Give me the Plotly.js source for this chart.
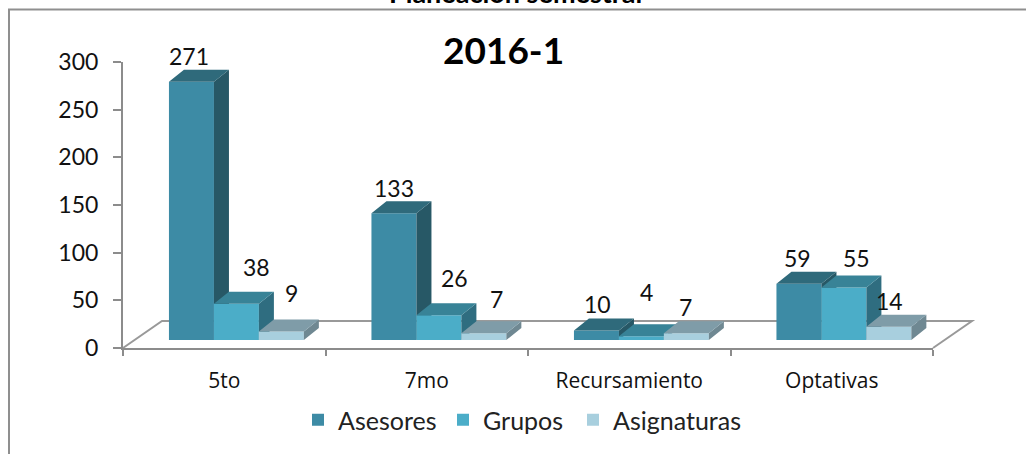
<!DOCTYPE html>
<html>
<head>
<meta charset="utf-8">
<script src="https://cdn.plot.ly/plotly-3.0.1.min.js"></script>
<style>html,body{margin:0;padding:0;background:#fff;overflow:hidden}#chart{width:1026px;height:454px}</style>
</head>
<body>
<div id="chart"></div>
<script>
// ---- data ----
const categories = ['5to', '7mo', 'Recursamiento', 'Optativas'];
const asesores = [271, 133, 10, 59];
const grupos = [38, 26, 4, 55];
const asignaturas = [9, 7, 7, 14];
const yTicks = [0, 50, 100, 150, 200, 250, 300];

// ---- hand-placed data label nudges of the original (pixels: right, up) ----
const nudgeAsesores = [[-2.5, 26], [0, 25], [1, 26.5], [-1, 26]];
const nudgeGrupos = [[20, 37], [16, 37], [5, 44], [13, 30]];
const nudgeAsignaturas = [[10, 38], [13, 34], [-1, 26], [1, 26]];

// ---- styling and geometry ----
const W = 1026, H = 454;
const px = { left: 123, right: 933, top: 62, bottom: 348 };
const xPerPx = categories.length / (px.right - px.left);
const yPerPx = 300 / (px.bottom - px.top);
const barBase = 8.4, barWidth = 45 * xPerPx;
const depthX = 15 * xPerPx, depthY = 12 * yPerPx;
const series = [
  { name: 'Asesores', values: asesores, nudge: nudgeAsesores, center: 0.338, front: '#3d8ba5', side: '#275866', top: '#2f6a7b', legend: 'legend', legendX: 298 },
  { name: 'Grupos', values: grupos, nudge: nudgeGrupos, center: 0.56, front: '#4badc8', side: '#2f6d80', top: '#388397', legend: 'legend2', legendX: 443 },
  { name: 'Asignaturas', values: asignaturas, nudge: nudgeAsignaturas, center: 0.782, front: '#a8cfde', side: '#6f8892', top: '#7f9ca8', legend: 'legend3', legendX: 573 }
];
const labelFont = 'Lato, "Open Sans", sans-serif';
const grey = '#8c8c8c';

const traces = [];
series.forEach((s, i) => {
  const xa = i === 0 ? 'x' : 'x' + (i + 1), ya = i === 0 ? 'y' : 'y' + (i + 1);
  const xs = s.values.map((_, c) => c + s.center);
  // front faces: real bars
  traces.push({
    type: 'bar', name: s.name, x: xs, y: s.values, base: barBase, width: barWidth, legend: s.legend,
    xaxis: xa, yaxis: ya, marker: { color: s.front, line: { width: 0 } }, hoverinfo: 'y'
  });
  // extruded side and top faces
  const sideX = [], sideY = [], topX = [], topY = [];
  s.values.forEach((v, c) => {
    const l = xs[c] - barWidth / 2, r = xs[c] + barWidth / 2, t = barBase + v;
    sideX.push(r, r + depthX, r + depthX, r, r, null);
    sideY.push(barBase, barBase + depthY, t + depthY, t, barBase, null);
    topX.push(l, l + depthX, r + depthX, r, l, null);
    topY.push(t, t + depthY, t + depthY, t, t, null);
  });
  [[sideX, sideY, s.side], [topX, topY, s.top]].forEach(f => {
    traces.push({
      type: 'scatter', mode: 'lines', x: f[0], y: f[1], fill: 'toself', fillcolor: f[2],
      line: { width: 0, color: f[2] }, xaxis: xa, yaxis: ya, showlegend: false, hoverinfo: 'skip', cliponaxis: false
    });
  });
});

// data labels sit on the bars' own scale and may leave the plot area (271)
const dataLabels = [];
series.forEach(s => {
  s.values.forEach((v, c) => {
    dataLabels.push({
      xref: 'x', yref: 'y', x: c + s.center, y: barBase + v, text: String(v), showarrow: false,
      xanchor: 'center', yanchor: 'middle', xshift: s.nudge[c][0], yshift: s.nudge[c][1],
      font: { family: labelFont, size: 23, color: '#111' }
    });
  });
});

const domX = [px.left / W, px.right / W];
const domY = [1 - px.bottom / H, 1 - px.top / H];
const pathPts = pts => 'M' + pts.map(p => (p[0] / W) + ',' + (1 - p[1] / H)).join('L');
const legendAt = xPx => ({
  orientation: 'h', x: xPx / W, xanchor: 'left', y: 1 - 420 / H, yanchor: 'middle', itemwidth: 30,
  font: { family: labelFont, size: 25, color: '#222' }, bgcolor: 'rgba(0,0,0,0)', itemclick: false, itemdoubleclick: false
});

const layout = {
  width: W, height: H,
  margin: { l: 0, r: 0, t: 0, b: 0 },
  paper_bgcolor: '#fff', plot_bgcolor: 'rgba(0,0,0,0)',
  barmode: 'overlay', showlegend: true,
  legend: legendAt(series[0].legendX),
  legend2: legendAt(series[1].legendX),
  legend3: legendAt(series[2].legendX),
  // category labels
  xaxis: {
    domain: domX, range: [0, 4], fixedrange: true, showgrid: false, zeroline: false, showline: false,
    tickmode: 'array', tickvals: categories.map((_, c) => c + 0.5), ticktext: categories, ticks: '',
    ticklabelstandoff: 18, tickfont: { family: '"Open Sans", sans-serif', size: 21, color: '#111' }
  },
  yaxis: {
    domain: domY, range: [0, 300], fixedrange: true, showgrid: false, zeroline: false,
    showline: true, linecolor: grey, linewidth: 2,
    tickmode: 'array', tickvals: yTicks, ticks: 'outside', ticklen: 8, tickwidth: 1.5, tickcolor: grey,
    ticklabelstandoff: 10, tickfont: { family: labelFont, size: 23, color: '#111' }
  },
  // axis line and category boundary ticks
  xaxis2: {
    domain: domX, range: [0, 4], overlaying: 'x', fixedrange: true, showgrid: false, zeroline: false, anchor: 'y2',
    showline: true, linecolor: grey, linewidth: 2, showticklabels: false,
    tickmode: 'array', tickvals: [0, 1, 2, 3, 4], ticks: 'outside', ticklen: 6, tickwidth: 1.5, tickcolor: grey
  },
  yaxis2: { domain: domY, range: [0, 300], visible: false, overlaying: 'y', fixedrange: true },
  xaxis3: { domain: domX, range: [0, 4], overlaying: 'x', visible: false, fixedrange: true, anchor: 'y3' },
  yaxis3: { domain: domY, range: [0, 300], visible: false, overlaying: 'y', fixedrange: true },
  shapes: [
    // chart frame
    { type: 'path', xref: 'paper', yref: 'paper', layer: 'below', path: pathPts([[9, H], [9, 9.5], [W, 9.5]]), line: { color: '#8f8f8f', width: 2 } },
    // floor of the 3D box
    { type: 'path', xref: 'paper', yref: 'paper', layer: 'below', path: pathPts([[123, 348], [162, 321], [972, 321], [933, 348]]), line: { color: '#999', width: 2 } }
  ],
  annotations: [
    { xref: 'paper', yref: 'paper', x: 515 / W, y: 1 + 8 / H, yanchor: 'middle', showarrow: false,
      text: '<b>Planeación semestral</b>', font: { family: labelFont, size: 27, color: '#000' } },
    { xref: 'paper', yref: 'paper', x: 503 / W, y: 1 - 49 / H, yanchor: 'middle', showarrow: false,
      text: '<b>2016-1</b>', font: { family: labelFont, size: 37, color: '#000' } }
  ].concat(dataLabels)
};
Plotly.newPlot('chart', traces, layout, { displayModeBar: false, responsive: false });
</script>
</body>
</html>
